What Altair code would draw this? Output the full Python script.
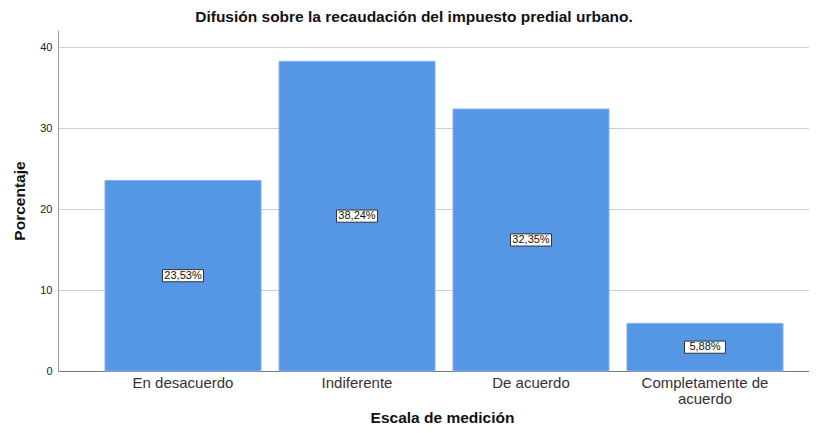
import altair as alt
import pandas as pd

categories = ["En desacuerdo", "Indiferente", "De acuerdo", "Completamente de acuerdo"]
values = [23.53, 38.24, 32.35, 5.88]
labels = [f"{v:.2f}".replace(".", ",") + "%" for v in values]

df = pd.DataFrame({"cat": categories, "val": values, "lab": labels})

BLUE = "#5596e5"
FONT = "Liberation Sans"

x = alt.X("cat:N", sort=categories,
          scale=alt.Scale(range=[0, 772], paddingInner=0.103, paddingOuter=0.27),
          axis=alt.Axis(title="Escala de medición", titleFontSize=15.5, titleFontWeight="bold",
                        titleColor="#111", titleFont=FONT, titleX=384, titleY=51,
                        titleBaseline="alphabetic",
                        labelAngle=0, labelFontSize=15, labelColor="#333",
                        labelFont=FONT, labelPadding=4, labelLineHeight=16,
                        ticks=False, domainColor="#777", labelLimit=300,
                        labelExpr="datum.label == 'Completamente de acuerdo' ? ['Completamente de', 'acuerdo'] : datum.label"))
y = alt.Y("val:Q", scale=alt.Scale(domain=[0, 42.1], nice=False),
          axis=alt.Axis(title="Porcentaje", titleFontSize=15.5, titleFontWeight="bold",
                        titleColor="#111", titleFont=FONT, titlePadding=12,
                        values=[0, 10, 20, 30, 40], labelFontSize=11, labelColor="#222",
                        labelFont=FONT, labelPadding=6, ticks=False,
                        domainColor="#999", gridColor="#cfcfcf", grid=True))

bars = alt.Chart(df).mark_bar(color=BLUE, stroke="#8ab6ee", strokeWidth=1).encode(x=x, y=y)

boxes = alt.Chart(df).transform_calculate(
    y1="datum.val/2 - 0.75", y2="datum.val/2 + 0.75"
).mark_bar(width=41, fill="white", stroke="#333", strokeWidth=1).encode(
    x=alt.X("cat:N", sort=categories), y=alt.Y("y1:Q"), y2="y2:Q")

texts = alt.Chart(df).transform_calculate(ym="datum.val/2").mark_text(
    fontSize=11, font=FONT, color="#111", baseline="middle").encode(
    x=alt.X("cat:N", sort=categories), y=alt.Y("ym:Q"), text="lab:N")

chart = alt.layer(bars, boxes, texts).properties(
    width=750, height=341,
    title=alt.Title("Difusión sobre la recaudación del impuesto predial urbano.",
                    fontSize=15.5, fontWeight="bold", font=FONT, color="#111",
                    dx=-19, offset=5),
    autosize=alt.AutoSizeParams(type="none"),
    padding={"left": 50, "top": 22, "right": 1, "bottom": 54},
).configure_view(stroke=None)

chart.save("out.html", embed_options={"renderer": "svg", "actions": False})
